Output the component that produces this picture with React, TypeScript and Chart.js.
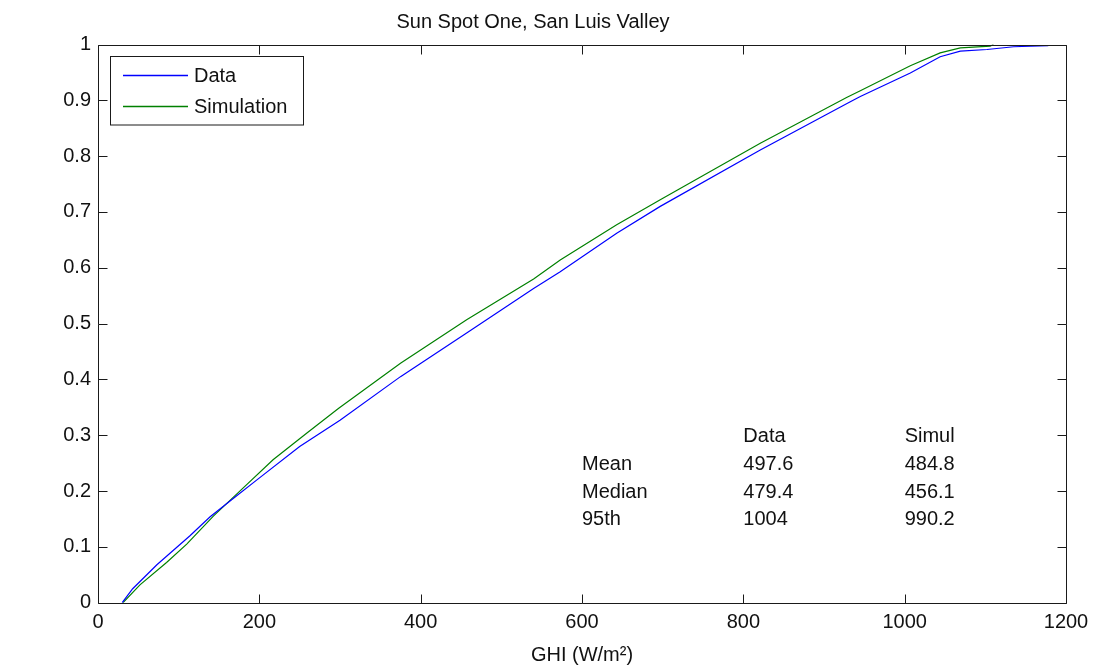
import React, { useEffect, useRef } from 'react';
import { Chart, registerables } from 'chart.js';

Chart.register(...registerables);

const FONT = '"Liberation Sans", Arial, sans-serif';

const dataX = [30, 43, 73, 114, 139, 168, 197, 250, 300, 375, 457, 540, 573, 643, 697, 821, 932, 945, 1007, 1044, 1069, 1102, 1135, 1178];
const dataY = [0, 0.025, 0.068, 0.12, 0.154, 0.187, 0.22, 0.28, 0.327, 0.405, 0.483, 0.563, 0.593, 0.662, 0.71, 0.811, 0.897, 0.907, 0.949, 0.978, 0.988, 0.991, 0.996, 0.998];
const simX = [31, 52, 85, 110, 143, 184, 217, 259, 298, 375, 457, 540, 573, 643, 697, 821, 928, 945, 1007, 1044, 1069, 1106, 1110];
const simY = [0, 0.032, 0.072, 0.105, 0.155, 0.211, 0.256, 0.304, 0.348, 0.429, 0.507, 0.58, 0.614, 0.677, 0.722, 0.823, 0.905, 0.917, 0.962, 0.985, 0.994, 0.997, 1.0];

const seriesLabels = ['Data', 'Simulation'];
const seriesColors = ['#0000ff', '#008000'];

const xTicks = [0, 200, 400, 600, 800, 1000, 1200];
const yTicks = [0, 0.1, 0.2, 0.3, 0.4, 0.5, 0.6, 0.7, 0.8, 0.9, 1];

const statsHeader = ['', 'Data', 'Simul'];
const statsRows = ['Mean', 'Median', '95th'];
const statsData = ['497.6', '479.4', '1004'];
const statsSimul = ['484.8', '456.1', '990.2'];
const statsColX = [600, 800, 1000];
const statsRowY = [0.3, 0.25, 0.2, 0.15];

const frameTicksPlugin = {
  id: 'frameTicks',
  afterDatasetsDraw(chart: any) {
    const { ctx, chartArea, scales } = chart;
    const { left, right, top, bottom } = chartArea;
    const xs = scales.x;
    const ys = scales.y;
    const L = 9;
    ctx.save();
    ctx.strokeStyle = '#1a1a1a';
    ctx.lineWidth = 1;
    ctx.beginPath();
    const l = Math.round(left) + 0.5;
    const r = Math.round(right) + 0.5;
    const t = Math.round(top) + 0.5;
    const b = Math.round(bottom) + 0.5;
    ctx.rect(l, t, r - l, b - t);
    xTicks.forEach((v) => {
      const px = Math.round(xs.getPixelForValue(v)) + 0.5;
      ctx.moveTo(px, b);
      ctx.lineTo(px, b - L);
      ctx.moveTo(px, t);
      ctx.lineTo(px, t + L);
    });
    yTicks.forEach((v) => {
      const py = Math.round(ys.getPixelForValue(v)) + 0.5;
      ctx.moveTo(l, py);
      ctx.lineTo(l + L, py);
      ctx.moveTo(r, py);
      ctx.lineTo(r - L, py);
    });
    ctx.stroke();

    // statistics text
    ctx.fillStyle = '#111';
    ctx.font = `20px ${FONT}`;
    ctx.textAlign = 'left';
    ctx.textBaseline = 'middle';
    statsHeader.forEach((h, i) => {
      if (!h) return;
      ctx.fillText(h, xs.getPixelForValue(statsColX[i]), ys.getPixelForValue(statsRowY[0]) + 1);
    });
    statsRows.forEach((name, j) => {
      const py = ys.getPixelForValue(statsRowY[j + 1]) + 1;
      ctx.fillText(name, xs.getPixelForValue(statsColX[0]), py);
      ctx.fillText(statsData[j], xs.getPixelForValue(statsColX[1]), py);
      ctx.fillText(statsSimul[j], xs.getPixelForValue(statsColX[2]), py);
    });

    // legend box
    const bx = 110.5, by = 56.5, bw = 193, bh = 68.5;
    ctx.fillStyle = '#ffffff';
    ctx.fillRect(bx, by, bw, bh);
    ctx.strokeStyle = '#1a1a1a';
    ctx.lineWidth = 1;
    ctx.strokeRect(bx, by, bw, bh);
    const rowsY = [75.5, 106.5];
    seriesLabels.forEach((label, i) => {
      ctx.strokeStyle = seriesColors[i];
      ctx.lineWidth = 1.5;
      ctx.beginPath();
      ctx.moveTo(123, rowsY[i]);
      ctx.lineTo(188, rowsY[i]);
      ctx.stroke();
      ctx.fillStyle = '#111';
      ctx.fillText(label, 194, rowsY[i] + 1);
    });
    ctx.restore();
  },
};

export default function App() {
  const ref = useRef<HTMLCanvasElement | null>(null);
  useEffect(() => {
    document.body.style.margin = '0';
    const canvas = ref.current;
    if (!canvas) return;
    const chart = new Chart(canvas, {
      type: 'line',
      data: {
        datasets: [
          {
            label: seriesLabels[0],
            data: dataX.map((x, i) => ({ x, y: dataY[i] })),
            borderColor: seriesColors[0],
            backgroundColor: seriesColors[0],
            borderWidth: 1.2,
            pointRadius: 0,
            tension: 0,
            fill: false,
          },
          {
            label: seriesLabels[1],
            data: simX.map((x, i) => ({ x, y: simY[i] })),
            borderColor: seriesColors[1],
            backgroundColor: seriesColors[1],
            borderWidth: 1.2,
            pointRadius: 0,
            tension: 0,
            fill: false,
          },
        ],
      },
      options: {
        responsive: false,
        animation: false,
        layout: { padding: { left: 0, right: 27, top: 0, bottom: 0 } },
        plugins: {
          legend: { display: false },
          tooltip: { enabled: false },
          title: {
            display: true,
            text: 'Sun Spot One, San Luis Valley',
            color: '#111',
            font: { family: FONT, size: 20, weight: 'normal' },
            padding: { top: 10.5, bottom: 10 },
          },
        },
        scales: {
          x: {
            type: 'linear',
            min: 0,
            max: 1200,
            afterBuildTicks: (scale: any) => {
              scale.ticks = xTicks.map((v) => ({ value: v }));
            },
            afterFit: (scale: any) => {
              scale.height = 68.3;
              scale.paddingLeft = 0;
              scale.paddingRight = 0;
            },
            grid: { display: false, drawTicks: false, tickLength: 0 },
            border: { display: false },
            ticks: {
              color: '#111',
              font: { family: FONT, size: 20 },
              padding: 8,
              maxRotation: 0,
              autoSkip: false,
              callback: (v: any) => String(v),
            },
            title: {
              display: true,
              text: 'GHI (W/m²)',
              color: '#111',
              font: { family: FONT, size: 20 },
              padding: { top: 0, bottom: 4 },
            },
          },
          y: {
            type: 'linear',
            min: 0,
            max: 1,
            afterBuildTicks: (scale: any) => {
              scale.ticks = yTicks.map((v) => ({ value: v }));
            },
            afterFit: (scale: any) => {
              scale.width = 98;
              scale.paddingTop = 0;
              scale.paddingBottom = 0;
            },
            grid: { display: false, drawTicks: false, tickLength: 0 },
            border: { display: false },
            ticks: {
              color: '#111',
              font: { family: FONT, size: 20 },
              padding: 7,
              autoSkip: false,
              callback: (v: any) => String(Number(Number(v).toFixed(1))),
            },
          },
        },
      },
      plugins: [frameTicksPlugin],
    });
    return () => chart.destroy();
  }, []);
  return <canvas ref={ref} width={1093} height={671} style={{ display: 'block' }} />;
}
